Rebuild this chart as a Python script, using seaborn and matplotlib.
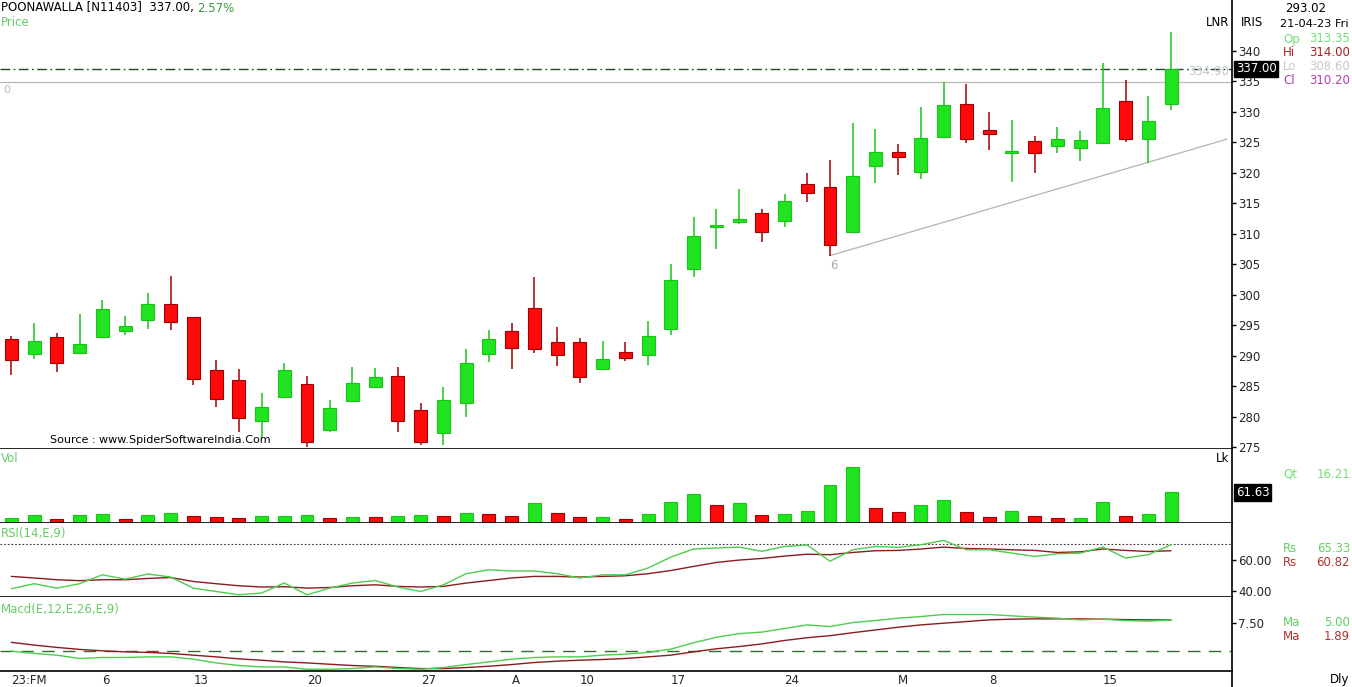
import numpy as np
import pandas as pd
import matplotlib
matplotlib.use("Agg")
import matplotlib.pyplot as plt
from matplotlib.lines import Line2D
import seaborn as sns

# ---------------- data ----------------
opens = [292.74, 290.33, 293.07, 290.49, 293.11, 294.10, 295.90, 298.52, 296.34, 287.66,
         286.02, 279.34, 283.28, 285.36, 277.82, 282.62, 284.92, 286.67, 281.10, 277.28,
         282.30, 290.23, 294.05, 297.77, 292.25, 292.25, 287.77, 290.61, 290.11, 294.33,
         304.16, 311.15, 311.97, 313.35, 312.13, 318.15, 317.66, 310.33, 321.10, 323.39,
         320.16, 325.90, 331.26, 327.00, 323.18, 325.20, 324.38, 324.00, 324.82, 331.75,
         325.48, 331.21]
highs = [293.18, 295.31, 293.77, 296.79, 299.13, 296.56, 300.33, 303.11, 296.40, 289.30,
         287.87, 283.93, 288.85, 286.67, 282.74, 288.20, 287.98, 288.20, 282.30, 284.92,
         291.15, 294.21, 295.41, 302.85, 294.75, 292.85, 292.41, 292.25, 295.69, 304.98,
         312.79, 314.05, 317.28, 314.00, 316.51, 320.00, 322.08, 328.10, 327.11, 324.70,
         330.82, 334.90, 334.49, 330.00, 328.64, 326.02, 327.54, 326.89, 338.03, 335.20,
         332.57, 343.02]
lows = [286.79, 289.41, 287.38, 290.30, 293.00, 293.34, 294.38, 294.21, 285.25, 281.64,
        277.54, 276.72, 283.10, 275.08, 277.54, 282.50, 284.80, 277.44, 275.36, 275.36,
        280.00, 289.02, 287.82, 290.39, 288.36, 285.48, 287.60, 289.13, 288.48, 293.34,
        302.85, 307.44, 311.59, 308.60, 311.15, 315.25, 306.40, 310.20, 318.26, 319.62,
        318.92, 325.80, 324.82, 323.72, 318.52, 319.90, 323.28, 321.97, 324.70, 325.08,
        321.54, 330.28]
closes = [289.34, 292.41, 288.85, 291.92, 297.66, 294.87, 298.52, 295.52, 286.13, 282.95,
          279.84, 281.64, 287.66, 275.85, 281.48, 285.48, 286.51, 279.34, 275.85, 282.74,
          288.80, 292.74, 291.31, 291.15, 290.16, 286.46, 289.51, 289.62, 293.23, 302.41,
          309.62, 311.43, 312.46, 310.20, 315.36, 316.62, 308.07, 319.46, 323.44, 322.62,
          325.74, 331.10, 325.57, 326.34, 323.56, 323.28, 325.48, 325.36, 330.56, 325.48,
          328.55, 337.00]
volume_lakh = [10.2, 15.7, 8.9, 15.7, 18.3, 8.9, 15.7, 20.3, 13.6, 11.6,
               9.6, 13.4, 13.8, 15.7, 9.6, 11.6, 11.2, 13.6, 16.3, 14.2,
               20.3, 18.9, 14.2, 39.3, 20.3, 11.8, 12.2, 8.1, 18.9, 41.3,
               57.6, 35.2, 39.3, 16.21, 18.9, 24.4, 75.9, 112.5, 31.1, 22.4,
               36.0, 46.8, 22.4, 12.2, 24.4, 14.8, 9.8, 10.6, 41.3, 14.8,
               18.9, 61.63]
rsi = [41.7, 44.9, 42.1, 44.9, 50.5, 47.8, 51.0, 49.1, 42.1, 40.0,
       37.9, 39.0, 45.3, 37.9, 42.1, 45.3, 46.9, 42.8, 40.0, 44.2,
       51.2, 53.7, 52.9, 52.9, 51.2, 48.5, 50.5, 50.5, 54.8, 61.7,
       66.8, 67.4, 68.0, 65.33, 68.4, 69.3, 59.1, 66.3, 68.4, 67.8,
       69.5, 72.2, 66.3, 66.3, 64.2, 62.1, 63.8, 64.2, 68.0, 61.1,
       63.2, 69.5]
rsi_signal = [49.5, 48.5, 47.4, 46.8, 47.4, 47.4, 48.2, 48.8, 46.3, 44.9,
              43.6, 42.8, 43.0, 42.1, 42.5, 43.6, 44.2, 43.2, 42.8, 43.2,
              45.3, 46.9, 48.5, 49.5, 49.5, 49.1, 49.5, 49.9, 51.2, 53.2,
              55.8, 58.3, 59.8, 60.82, 62.3, 63.5, 63.2, 64.6, 65.7, 65.9,
              66.8, 68.0, 67.1, 66.8, 66.3, 65.9, 64.6, 65.0, 66.8, 65.9,
              65.2, 65.7]
macd = [0.0, -0.61, -1.06, -1.94, -1.67, -1.67, -1.51, -1.51, -2.12, -3.10,
        -3.79, -4.16, -4.16, -4.77, -4.77, -4.59, -4.16, -4.59, -4.77, -4.32,
        -3.53, -2.84, -2.12, -1.67, -1.51, -1.51, -1.06, -0.80, -0.34, 0.53,
        2.20, 3.63, 4.60, 5.00, 5.95, 6.90, 6.45, 7.51, 8.04, 8.67,
        9.10, 9.63, 9.63, 9.63, 9.28, 8.94, 8.67, 8.22, 8.41, 8.04,
        7.88, 8.22]
macd_signal = [2.31, 1.59, 0.98, 0.45, 0.08, -0.19, -0.34, -0.61, -1.06, -1.51,
               -2.04, -2.39, -2.84, -3.10, -3.45, -3.79, -3.98, -4.32, -4.59, -4.59,
               -4.32, -3.98, -3.53, -3.00, -2.65, -2.39, -2.20, -1.94, -1.51, -1.06,
               -0.19, 0.61, 1.20, 1.89, 2.80, 3.53, 4.06, 4.85, 5.57, 6.29,
               6.90, 7.35, 7.77, 8.22, 8.41, 8.49, 8.49, 8.49, 8.41, 8.30,
               8.22, 8.22]
date_tick_idx = [0, 4, 8, 13, 18, 22, 25, 29, 34, 39, 43, 48]
date_tick_labels = ["23:FM", "6", "13", "20", "27", "A", "10", "17", "24", "M", "8", "15"]
price_ticks = [275, 280, 285, 290, 295, 300, 305, 310, 315, 320, 325, 330, 335, 340]
resistance_level = 334.90
last_close = 337.00
trend_start_idx = 36
trend_end_idx = 53.46
trend_end_price = 325.5

df = pd.DataFrame({"i": np.arange(len(closes)), "open": opens, "high": highs,
                   "low": lows, "close": closes, "vol": volume_lakh,
                   "rsi": rsi, "rsi_sig": rsi_signal, "macd": macd, "macd_sig": macd_signal})

# ---------------- style ----------------
sns.set_style("white")
plt.rcParams['font.family'] = ['DejaVu Sans']

GREEN = "#1fe41f"
GREEN_EDGE = "#19c419"
RED = "#ff0a0a"
RED_EDGE = "#a00000"
LINE_GREEN = "#4ccd4c"
LINE_RED = "#8b1c1c"
TXT_GREEN = "#66cc66"

W, H = 1352, 687
fig = plt.figure(figsize=(W / 100, H / 100), dpi=100)
fig.patch.set_facecolor("white")


def ax_px(x0, y0, x1, y1):
    return fig.add_axes([x0 / W, 1 - y1 / H, (x1 - x0) / W, (y1 - y0) / H])


ax_p = ax_px(0, 0, 1232, 449)
ax_v = ax_px(0, 449, 1232, 523)
ax_r = ax_px(0, 523, 1232, 597)
ax_m = ax_px(0, 597, 1232, 671)

XLIM = (-0.501, 53.68)
for ax in (ax_p, ax_v, ax_r, ax_m):
    ax.set_xlim(*XLIM)
    ax.set_facecolor("white")
    for s in ("top", "left", "right"):
        ax.spines[s].set_visible(False)
    ax.spines["bottom"].set_color("black")
    ax.spines["bottom"].set_linewidth(1.2)
    ax.yaxis.tick_right()
    ax.tick_params(axis="y", which="both", direction="out", length=3, width=1,
                   color="black", labelsize=8.5, pad=1.5)
    ax.tick_params(axis="x", length=0)
    ax.set_xticks([])

# ---------------- price panel ----------------
ax_p.set_ylim(274.70, 348.31)
ax_p.set_yticks(price_ticks)
ax_p.set_yticklabels([str(t) for t in price_ticks])

body_w = 0.57
for _, r in df.iterrows():
    is_up = r["close"] >= r["open"]
    wc = GREEN_EDGE if is_up else RED_EDGE
    ax_p.vlines(r["i"], r["low"], r["high"], color=wc, lw=1.1, zorder=2)
    lo = min(r["open"], r["close"])
    h = max(abs(r["close"] - r["open"]), 0.35)
    ax_p.bar(r["i"], h, bottom=lo, width=body_w,
             color=GREEN if is_up else RED,
             edgecolor=GREEN_EDGE if is_up else RED_EDGE, linewidth=0.8, zorder=3)

ax_p.axhline(last_close, color="#1d4d1d", lw=1.0, ls=(0, (7, 2.5, 1.2, 2.5)), zorder=1)
ax_p.axhline(resistance_level, color="#b8b8b8", lw=0.9, zorder=1)
ax_p.plot([trend_start_idx, trend_end_idx], [lows[trend_start_idx], trend_end_price],
          color="#b4b4b4", lw=0.9, zorder=1)
ax_p.text(trend_start_idx + 0.15, lows[trend_start_idx] - 0.6, "6", color="#aaaaaa",
          fontsize=8.5, ha="center", va="top")
ax_p.text(0.003, 1 - 90 / 449, "0", transform=ax_p.transAxes, color="#bbbbbb", fontsize=8,
          ha="left", va="center")
ax_p.text(0.998, resistance_level + 0.7, f"{resistance_level:.2f}", transform=ax_p.get_yaxis_transform(),
          color="#c4c4c4", fontsize=8.5, ha="right", va="bottom")
ax_p.text(1.003, last_close, f"{last_close:.2f}", transform=ax_p.get_yaxis_transform(),
          color="white", fontsize=8.5, ha="left", va="center", zorder=10,
          bbox=dict(boxstyle="square,pad=0.15", fc="black", ec="black"))
ax_p.text(50 / 1232, 0.02, "Source : www.SpiderSoftwareIndia.Com", transform=ax_p.transAxes,
          color="black", fontsize=8, ha="left", va="center")

# ---------------- volume panel ----------------
ax_v.set_ylim(0, 148.5)
ax_v.set_yticks([])
vol_up = df["vol"].diff().fillna(1) >= 0
ax_v.bar(df["i"], df["vol"], width=body_w,
         color=[GREEN if u else RED for u in vol_up],
         edgecolor=[GREEN_EDGE if u else RED_EDGE for u in vol_up], linewidth=0.8)
ax_v.text(1.003, volume_lakh[-1], f"{volume_lakh[-1]:.2f}", transform=ax_v.get_yaxis_transform(),
          color="white", fontsize=8.5, ha="left", va="center", zorder=10,
          bbox=dict(boxstyle="square,pad=0.15", fc="black", ec="black"))

# ---------------- RSI panel ----------------
ax_r.set_ylim(36.5, 83.2)
ax_r.axhline(70, color="#333333", lw=0.8, ls=(0, (1.5, 1.8)))
sns.lineplot(data=df, x="i", y="rsi_sig", ax=ax_r, color=LINE_RED, lw=1.0)
sns.lineplot(data=df, x="i", y="rsi", ax=ax_r, color=LINE_GREEN, lw=1.0)
ax_r.set_yticks([40, 60])
ax_r.set_yticklabels(["40.00", "60.00"])

# ---------------- MACD panel ----------------
ax_m.set_ylim(-5.23, 14.24)
ax_m.axhline(0, color="#2e7030", lw=1.0, ls=(0, (9, 6)))
sns.lineplot(data=df, x="i", y="macd_sig", ax=ax_m, color=LINE_RED, lw=1.0)
sns.lineplot(data=df, x="i", y="macd", ax=ax_m, color=LINE_GREEN, lw=1.0)
ax_m.set_yticks([7.5])
ax_m.set_yticklabels(["7.50"])
ax_m.set_xticks(date_tick_idx)
ax_m.set_xticklabels(date_tick_labels, fontsize=8.5)
ax_m.tick_params(axis="x", length=0, pad=2.5)
for lab in ax_m.get_xticklabels():
    lab.set_horizontalalignment("left")

for ax in (ax_p, ax_v, ax_r, ax_m):
    ax.set_xlabel("")
    ax.set_ylabel("")
    for lab in ax.get_yticklabels():
        lab.set_horizontalalignment("left")
    ax.set_xlim(*XLIM)

# full-height right axis line
fig.add_artist(Line2D([1232 / W, 1232 / W], [0, 1], color="black", lw=1.2,
                      transform=fig.transFigure))


def ftxt(x, y, s, **kw):
    kw.setdefault("fontsize", 8.5)
    kw.setdefault("va", "center")
    fig.text(x / W, 1 - y / H, s, **kw)


# header
ftxt(1, 8, "POONAWALLA [N11403]  337.00,", color="black")
ftxt(197, 8, "2.57%", color="#3a9a3a")
ftxt(1, 23, "Price", color=TXT_GREEN)
ftxt(1, 458, "Vol", color=TXT_GREEN)
ftxt(1, 534, "RSI(14,E,9)", color=TXT_GREEN)
ftxt(1, 609, "Macd(E,12,E,26,E,9)", color=TXT_GREEN)
ftxt(1229, 22, "LNR", ha="right", color="black")
ftxt(1241, 22, "IRIS", color="black")
ftxt(1229, 458, "Lk", ha="right", color="black")

# info column
ftxt(1306, 8, "293.02", ha="center", color="black")
ftxt(1349, 24, "21-04-23 Fri", ha="right", color="black", fontsize=8.2)
info = [("Op", "313.35", "#77dd77", 39), ("Hi", "314.00", "#aa2020", 53),
        ("Lo", "308.60", "#c8c8c8", 67), ("Cl", "310.20", "#b040b0", 81),
        ("Qt", "16.21", "#77dd77", 474),
        ("Rs", "65.33", "#66cc66", 548), ("Rs", "60.82", "#b03030", 562),
        ("Ma", "5.00", "#66cc66", 622), ("Ma", "1.89", "#b03030", 636)]
for k, v, c, y in info:
    ftxt(1283, y, k, color=c)
    ftxt(1350, y, v, color=c, ha="right")
ftxt(1349, 679, "Dly", ha="right", color="black")

fig.savefig("out.png", dpi=100, facecolor="white")
